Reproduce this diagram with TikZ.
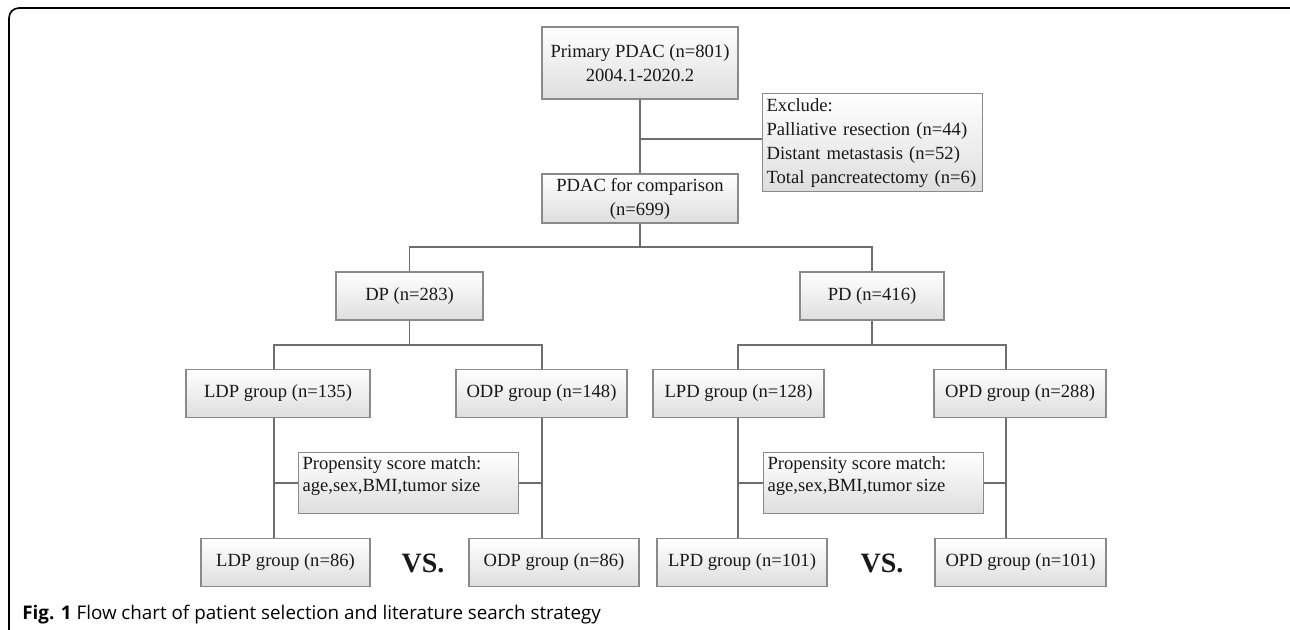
\documentclass[tikz,border=0pt]{standalone}
\usepackage{fontspec}
\setmainfont{Liberation Serif}
\newfontfamily\capfont{Open Sans}
\definecolor{boxline}{HTML}{8A8A8A}
\definecolor{linkgray}{HTML}{6E6E6E}
\usetikzlibrary{positioning, calc}

\begin{document}
\begin{tikzpicture}[x=0.5pt, y=-0.5pt, every node/.style={font=\fontsize{9.3}{12}\selectfont}]
        \tikzset{
          flowbox/.style={draw=boxline, line width=0.6pt, top color=white,
                 bottom color=black!13, minimum height=24pt, inner sep=1pt,
                 align=center, text=black!90},
          notebox/.style={flowbox, align=left, inner xsep=2pt},
          link/.style={draw=linkgray, line width=0.65pt},
          vsmark/.style={font=\fontsize{14}{14}\selectfont\bfseries, text=black!90}
        }
        \useasboundingbox (0,0) rectangle (1290,630);
        \draw[line width=0.8pt, rounded corners=5pt] (9,630) -- (9,8) -- (1290,8);
        % top part
        \node[flowbox, minimum width=98pt, minimum height=36pt] (prim) at (640,63) {Primary PDAC (n=801)\\2004.1-2020.2};
        \node[notebox, anchor=north west, text width=106pt, minimum height=49pt] (excl) at (762,93)
          {Exclude:\\Palliative resection (n=44)\\Distant metastasis (n=52)\\Total pancreatectomy (n=6)};
        \node[flowbox, minimum width=98pt, minimum height=24.5pt] (cmp) at (640,198.5) {PDAC for comparison\\(n=699)};
        \node[flowbox, minimum width=73.5pt] (dp) at (409.5,296) {DP (n=283)};
        \node[flowbox, minimum width=72pt] (pd) at (872,296) {PD (n=416)};
        % groups
        \node[flowbox, minimum width=92pt] (ldp) at (278,393.5) {LDP group (n=135)};
        \node[flowbox, minimum width=85.5pt] (odp) at (541.5,393.5) {ODP group (n=148)};
        \node[flowbox, minimum width=85.5pt] (lpd) at (738.5,393.5) {LPD group (n=128)};
        \node[flowbox, minimum width=86pt] (opd) at (1020,393.5) {OPD group (n=288)};
        \node[notebox, anchor=north west, inner ysep=2pt] (psmL) at (298,452)
          {\parbox[t][26.5pt][t]{106pt}{\fontsize{9.3}{11}\selectfont Propensity score match:\\age,sex,BMI,tumor size}};
        \node[notebox, anchor=north west, inner ysep=2pt] (psmR) at (763,452)
          {\parbox[t][26.5pt][t]{106pt}{\fontsize{9.3}{11}\selectfont Propensity score match:\\age,sex,BMI,tumor size}};
        % matched groups
        \node[flowbox, minimum width=84.5pt] (ldpm) at (285.5,562.5) {LDP group (n=86)};
        \node[flowbox, minimum width=85pt] (odpm) at (554,562.5) {ODP group (n=86)};
        \node[flowbox, minimum width=85pt] (lpdm) at (742,562.5) {LPD group (n=101)};
        \node[flowbox, minimum width=85.5pt] (opdm) at (1020.5,562.5) {OPD group (n=101)};
        \node[vsmark] (vsL) at (423,563) {VS.};
        \node[vsmark] (vsR) at (882,563) {VS.};
        \node[anchor=base west, inner sep=0pt, font=\capfont\fontsize{9.4}{11}\selectfont] (cap) at (22,619)
          {\textbf{Fig. 1} Flow chart of patient selection and literature search strategy};
        % connectors
        \coordinate (jEx) at (640,139);
        \coordinate (jTop) at (640,247);
        \coordinate (jDP) at (409.5,345);
        \coordinate (jPD) at (872,345);
        \coordinate (cLDP) at (274,483);
        \coordinate (cODP) at (542,483);
        \coordinate (cLPD) at (738,483);
        \coordinate (cOPD) at (1006,483);
        \draw[link] (prim) -- (cmp);
        \draw[link] (jEx) -- (excl.west |- jEx);
        \draw[link] (cmp) -- (jTop);
        \draw[link] (dp.north) |- (jTop) -| (pd.north);
        \draw[link] (dp) -- (jDP);
        \draw[link] (pd) -- (jPD);
        \draw[link] (ldp.north -| cLDP) |- (jDP) -| (odp.north -| cODP);
        \draw[link] (lpd.north -| cLPD) |- (jPD) -| (opd.north -| cOPD);
        \draw[link] (ldp.south -| cLDP) -- (ldpm.north -| cLDP);
        \draw[link] (odp.south -| cODP) -- (odpm.north -| cODP);
        \draw[link] (lpd.south -| cLPD) -- (lpdm.north -| cLPD);
        \draw[link] (opd.south -| cOPD) -- (opdm.north -| cOPD);
        \draw[link] (cLDP) -- (psmL.west |- cLDP);
        \draw[link] (psmL.east |- cODP) -- (cODP);
        \draw[link] (cLPD) -- (psmR.west |- cLPD);
        \draw[link] (psmR.east |- cOPD) -- (cOPD);
\end{tikzpicture}
\end{document}
